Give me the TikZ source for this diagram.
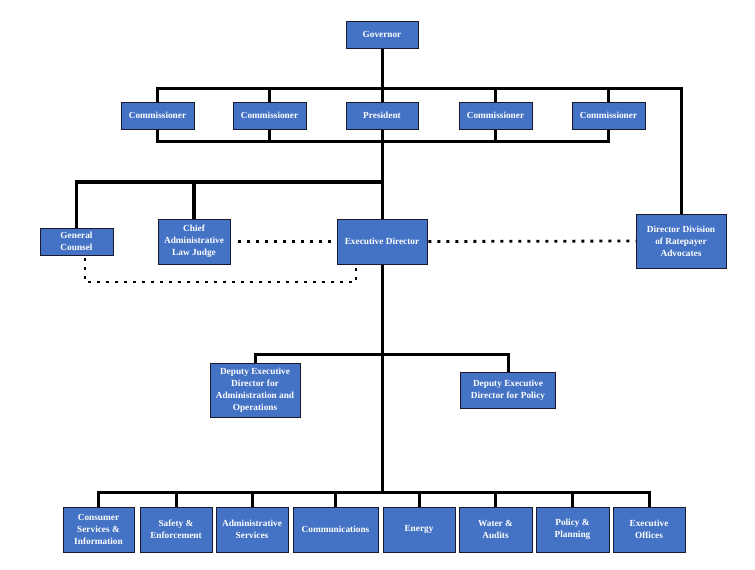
\documentclass[tikz,border=0pt]{standalone}
\usepackage{fontspec}
\setmainfont{Liberation Serif}
\definecolor{boxblue}{HTML}{4472C4}
\definecolor{boxedge}{HTML}{1A1A2E}
\pgfdeclarelayer{bg}
\pgfsetlayers{bg,main}
\begin{document}
\begin{tikzpicture}[x=1pt,y=-1pt,
  orgbox/.style={draw=boxedge,line width=0.9pt,fill=boxblue,text=white,
    font=\fontsize{9.3}{12}\selectfont\bfseries,align=center,inner sep=0pt},
  bus/.style={line width=3pt,line cap=rect},
  thickbus/.style={line width=3.6pt,line cap=rect},
  dotline/.style={line width=2.8pt,dash pattern=on 2.8pt off 6.2pt}]
\useasboundingbox (0,0) rectangle (755,570);
% coordinates for bus levels
\coordinate (ytop) at (0,88);
\coordinate (ylow) at (0,141);
\coordinate (ymid) at (0,182);
\coordinate (ydot) at (0,282);
\coordinate (ydep) at (0,354);
\coordinate (ybot) at (0,492);
% nodes
\node[orgbox,minimum width=72,minimum height=27] (gov) at (382,34.5) {Governor};
\node[orgbox,minimum width=73,minimum height=27] (c1) at (157.5,115.5) {Commissioner};
\node[orgbox,minimum width=73,minimum height=27] (c2) at (269.5,115.5) {Commissioner};
\node[orgbox,minimum width=72,minimum height=27] (pres) at (382,115.5) {President};
\node[orgbox,minimum width=73,minimum height=27] (c4) at (495.5,115.5) {Commissioner};
\node[orgbox,minimum width=73,minimum height=27] (c5) at (608.5,115.5) {Commissioner};
\node[orgbox,minimum width=73,minimum height=27] (gc) at (76.5,241.5) {General\\Counsel};
\node[orgbox,minimum width=72,minimum height=45] (alj) at (194,241.5) {Chief\\Administrative\\Law Judge};
\node[orgbox,minimum width=90,minimum height=45] (ed) at (382,241.5) {Executive Director};
\node[orgbox,minimum width=90,minimum height=54] (dir) at (681,241) {Director Division\\of Ratepayer\\Advocates};
\node[orgbox,minimum width=90,minimum height=54] (deda) at (255,390) {Deputy Executive\\Director for\\Administration and\\Operations};
\node[orgbox,minimum width=95,minimum height=36] (dedp) at (508,390) {Deputy Executive\\Director for Policy};
\node[orgbox,minimum width=71,minimum height=45] (b1) at (98.5,529.5) {Consumer\\Services \&\\Information};
\node[orgbox,minimum width=72,minimum height=45] (b2) at (176,529.5) {Safety \&\\Enforcement};
\node[orgbox,minimum width=72,minimum height=45] (b3) at (252,529.5) {Administrative\\Services};
\node[orgbox,minimum width=85,minimum height=45] (b4) at (335.5,529.5) {Communications};
\node[orgbox,minimum width=72,minimum height=45] (b5) at (419,529.5) {Energy};
\node[orgbox,minimum width=73,minimum height=45] (b6) at (495.5,529.5) {Water \&\\Audits};
\node[orgbox,minimum width=73,minimum height=45] (b7) at (572.5,529.5) {Policy \&\\Planning};
\node[orgbox,minimum width=72,minimum height=45] (b8) at (649,529.5) {Executive\\Offices};
\begin{pgfonlayer}{bg}
\fill[white] (0,0) rectangle (755,570);
% solid connectors
\draw[bus] (gov.south) -- (pres.north);
\draw[bus] (c1.north) |- (dir.north |- ytop) -- (dir.north);
\draw[bus] (c2.north) -- (c2.north |- ytop);
\draw[bus] (c4.north) -- (c4.north |- ytop);
\draw[bus] (c5.north) -- (c5.north |- ytop);
\draw[bus] (c1.south) |- (c5.south |- ylow) -- (c5.south);
\draw[bus] (c2.south) -- (c2.south |- ylow);
\draw[bus] (c4.south) -- (c4.south |- ylow);
\draw[bus] (pres.south) -- (ed.north);
\draw[thickbus] (gc.north) |- (ed.north |- ymid);
\draw[thickbus] (alj.north) -- (alj.north |- ymid);
\draw[bus] (ed.south) -- (ed.south |- ybot);
\draw[bus] (deda.north) |- (dedp.north |- ydep) -- (dedp.north);
\draw[bus] (b1.north) |- (b8.north |- ybot) -- (b8.north);
\foreach \b in {b2,b3,b4,b5,b6,b7}{\draw[bus] (\b.north) -- (\b.north |- ybot);}
% dotted connectors
\draw[dotline,shorten <=8pt] (alj.east) -- (ed.west);
\draw[dotline,shorten <=1pt] (ed.east) -- (dir.west);
\draw[dotline,shorten <=3pt] ([xshift=8.5pt]gc.south) |- ([xshift=-26pt]ed.south |- ydot) -- ([xshift=-26pt]ed.south);
\end{pgfonlayer}
\end{tikzpicture}
\end{document}
